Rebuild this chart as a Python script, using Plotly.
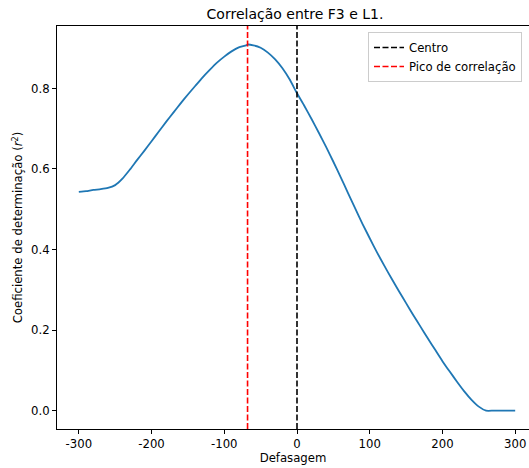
import plotly.graph_objects as go

lags = [-300, -290, -280, -270, -260, -250, -240, -230, -220, -210, -200, -190, -180, -170,
        -160, -150, -140, -130, -120, -110, -100, -90, -80, -70, -68, -60, -50, -40, -30, -20,
        -10, 0, 10, 20, 30, 40, 50, 60, 70, 80, 90, 100, 110, 120, 130, 140, 150, 160, 170,
        180, 190, 200, 210, 220, 230, 240, 250, 260, 270, 280, 290, 300]
r2 = [0.543, 0.545, 0.548, 0.550, 0.553, 0.560, 0.576, 0.598, 0.622, 0.645, 0.669, 0.693,
      0.717, 0.740, 0.763, 0.785, 0.806, 0.827, 0.846, 0.864, 0.879, 0.892, 0.902, 0.907,
      0.909, 0.907, 0.901, 0.889, 0.872, 0.850, 0.822, 0.788, 0.757, 0.724, 0.690, 0.655,
      0.618, 0.580, 0.541, 0.502, 0.464, 0.428, 0.393, 0.360, 0.328, 0.297, 0.267, 0.237,
      0.208, 0.179, 0.151, 0.123, 0.097, 0.072, 0.048, 0.027, 0.010, 0.0, 0.0, 0.0, 0.0, 0.0]

centro = 0
pico = lags[r2.index(max(r2))]
x_range = [-330, 319]
y_range = [-0.0455, 0.955]
x_ticks = [-300, -200, -100, 0, 100, 200, 300]
y_ticks = [0.0, 0.2, 0.4, 0.6, 0.8]

font = "DejaVu Sans"
fs = 11.7
fig = go.Figure()
fig.add_trace(go.Scatter(x=lags, y=r2, mode="lines",
                         line=dict(color="#1f77b4", width=1.8, shape="spline", smoothing=0.5),
                         showlegend=False))
fig.add_trace(go.Scatter(x=[centro, centro], y=y_range, mode="lines", name="Centro",
                         line=dict(color="black", width=1.6, dash="6px,2.5px")))
fig.add_trace(go.Scatter(x=[pico, pico], y=y_range, mode="lines", name="Pico de correlação",
                         line=dict(color="red", width=1.6, dash="6px,2.5px")))

axis_common = dict(showline=True, linecolor="black", linewidth=1, ticks="outside",
                   ticklen=4, tickcolor="black", tickwidth=1, showgrid=False, zeroline=False,
                   tickfont=dict(family=font, size=fs, color="black"))
fig.update_layout(
    width=529, height=468,
    margin=dict(l=57, r=0, t=26, b=39),
    paper_bgcolor="white", plot_bgcolor="white",
    title=dict(text="Correlação entre F3 e L1.", x=(57 + 533) / 2 / 529, xanchor="center",
               y=1 - 14 / 468, yanchor="middle", font=dict(family=font, size=14, color="black")),
    xaxis=dict(range=x_range, tickvals=x_ticks, ticktext=[str(t) for t in x_ticks], mirror=True,
               title=dict(text="Defasagem", font=dict(family=font, size=fs, color="black"), standoff=2),
               **axis_common),
    yaxis=dict(range=y_range, tickvals=y_ticks, ticktext=[f"{t:.1f}" for t in y_ticks],
               title=dict(text="Coeficiente de determinação (<i>r</i><sup>2</sup>)",
                          font=dict(family=font, size=fs, color="black"), standoff=5),
               **axis_common),
    legend=dict(x=(368 - 57) / 472, xanchor="left", y=1 - 6 / 403, yanchor="top",
                bgcolor="rgba(255,255,255,0.8)", bordercolor="#cccccc", borderwidth=1,
                font=dict(family=font, size=fs, color="black"), itemwidth=30,
                tracegroupgap=0),
)
fig.write_html("out.html")
